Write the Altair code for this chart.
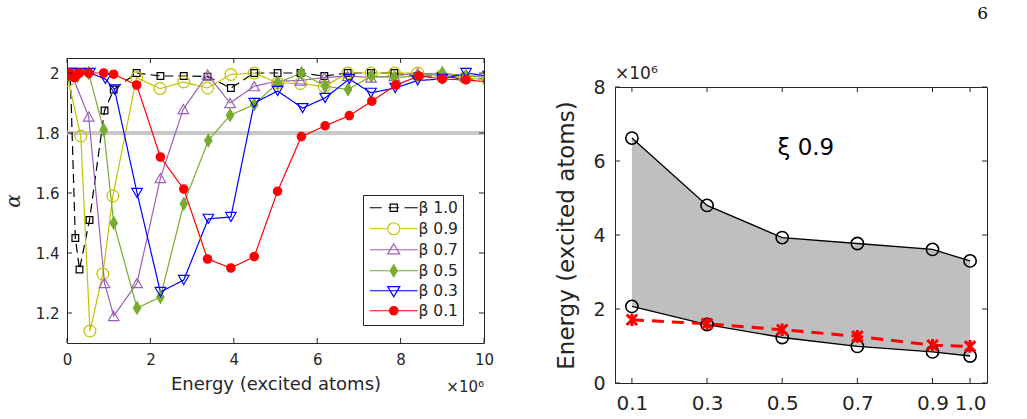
import altair as alt
import pandas as pd

FONT = "DejaVu Sans"
INK = "#262626"

# ---------------- left panel: alpha against energy, one curve per beta ----------------
series = ["β 1.0", "β 0.9", "β 0.7", "β 0.5", "β 0.3", "β 0.1"]
series_colors = ["#000000", "#c3c300", "#9b5fb5", "#77ac30", "#0000ff", "#ff0000"]
series_fills = ["transparent", "transparent", "transparent", "#77ac30", "transparent", "#ff0000"]
series_shapes = ["square", "circle", "triangle-up", "M0,-1L0.6,0L0,1L-0.6,0Z", "triangle-down", "circle"]
series_sizes = [45, 140, 110, 150, 110, 70]
series_dash = [[9, 5], [1, 0], [1, 0], [1, 0], [1, 0], [1, 0]]

# legend glyphs: a line segment with the marker in the middle
legend_glyphs = [
    "M-4,0H-2M-0.9,0H0.9M1.8,0H4M-0.6,-0.6H0.6V0.6H-0.6Z",
    "M-4,0H-1M1,0H4M-1,0A1,1,0,1,1,1,0A1,1,0,1,1,-1,0Z",
    "M-4,0H4M0,-1L1,0.7H-1Z",
    "M-4,0H4M0,-1L0.6,0L0,1L-0.6,0Z",
    "M-4,0H4M-1,-0.7H1L0,1Z",
    "M-4,0H4M-0.7,0A0.7,0.7,0,1,1,0.7,0A0.7,0.7,0,1,1,-0.7,0Z",
]

energy_b10 = [0.08, 0.2, 0.3, 0.54, 0.9, 1.12, 1.67, 2.24, 2.8, 3.37, 3.93, 4.49, 5.05, 5.6, 6.17, 6.73, 7.29, 7.85, 8.41, 8.97, 9.54, 10.1]
alpha_b10 = [1.99, 1.45, 1.345, 1.51, 1.875, 1.945, 2.0, 1.99, 1.99, 1.988, 1.95, 2.0, 2.0, 2.0, 1.99, 2.0, 2.0, 2.0, 1.99, 1.99, 1.98, 1.98]

energy_b09 = [0.03, 0.33, 0.55, 0.86, 1.1, 1.67, 2.23, 2.8, 3.37, 3.93, 4.49, 5.05, 5.6, 6.17, 6.73, 7.29, 7.85, 8.41, 8.97, 9.54, 10.1]
alpha_b09 = [1.975, 1.79, 1.14, 1.33, 1.59, 1.985, 1.948, 1.97, 1.95, 1.995, 2.0, 1.967, 1.965, 1.955, 2.0, 2.0, 2.0, 2.0, 1.99, 1.985, 1.975]

energy_b07 = [0.1, 0.52, 0.9, 1.12, 1.68, 2.24, 2.79, 3.37, 3.91, 4.49, 5.05, 5.6, 6.17, 6.73, 7.29, 7.85, 8.41, 8.97, 9.54, 10.1]
alpha_b07 = [2.0, 1.855, 1.30, 1.19, 1.30, 1.65, 1.88, 1.995, 1.90, 1.956, 1.973, 1.975, 1.985, 1.99, 1.985, 1.99, 2.0, 1.995, 1.99, 1.99]

energy_b05 = [0.05, 0.25, 0.52, 0.88, 1.12, 1.68, 2.24, 2.8, 3.39, 3.91, 4.49, 5.05, 5.62, 6.19, 6.74, 7.3, 7.85, 8.41, 9.0, 9.57, 10.1]
alpha_b05 = [1.99, 1.99, 2.0, 1.81, 1.50, 1.217, 1.253, 1.564, 1.775, 1.859, 1.895, 1.967, 2.0, 1.956, 1.945, 1.99, 1.985, 1.99, 2.0, 1.99, 1.985]

energy_b03 = [0.0, 0.12, 0.3, 0.55, 0.92, 1.14, 1.68, 2.24, 2.8, 3.39, 3.93, 4.49, 5.05, 5.65, 6.19, 6.77, 7.29, 7.87, 8.41, 9.0, 9.57, 10.1]
alpha_b03 = [2.0, 2.0, 2.0, 2.0, 1.98, 1.945, 1.6, 1.27, 1.31, 1.514, 1.52, 1.9, 1.94, 1.883, 1.917, 1.98, 1.934, 1.95, 1.975, 1.98, 2.0, 1.99]

energy_b01 = [0.0, 0.08, 0.18, 0.3, 0.52, 0.88, 1.12, 1.67, 2.24, 2.8, 3.37, 3.93, 4.49, 5.05, 5.62, 6.19, 6.77, 7.31, 7.89, 8.44, 9.0, 9.57, 10.1]
alpha_b01 = [1.99, 2.0, 1.985, 2.0, 2.0, 2.0, 1.996, 1.96, 1.72, 1.613, 1.38, 1.35, 1.388, 1.606, 1.788, 1.824, 1.858, 1.906, 1.96, 1.99, 1.98, 1.977, 1.97]

alpha_threshold = 1.8
left_x_ticks = [0, 2, 4, 6, 8, 10]
left_y_ticks = [1.2, 1.4, 1.6, 1.8, 2.0]

# ---------------- right panel: energy window against beta ----------------
beta_values = [0.1, 0.3, 0.5, 0.7, 0.9, 1.0]
energy_upper = [6.62, 4.80, 3.93, 3.77, 3.61, 3.30]
energy_lower = [2.07, 1.58, 1.23, 0.99, 0.84, 0.73]
energy_red = [1.71, 1.60, 1.44, 1.26, 1.02, 0.99]
right_x_ticks = [0.1, 0.3, 0.5, 0.7, 0.9, 1.0]
right_y_ticks = [0, 2, 4, 6, 8]
xi_label = "ξ 0.9"
xi_pos = (0.563, 6.34)
exponent_label = "×10⁶"

# ---------------- tables ----------------
rows = []
for name, ex, al in zip(series,
                        [energy_b10, energy_b09, energy_b07, energy_b05, energy_b03, energy_b01],
                        [alpha_b10, alpha_b09, alpha_b07, alpha_b05, alpha_b03, alpha_b01]):
    for i, (e, a) in enumerate(zip(ex, al)):
        rows.append({"series": name, "energy": e, "alpha": a, "idx": i})
left_df = pd.DataFrame(rows)

W1, H1 = 417, 285
W2, H2 = 372, 296
TICK = 5

xs1 = alt.Scale(domain=[0, 10], nice=False, zero=False)
ys1 = alt.Scale(domain=[1.1, 2.05], nice=False, zero=False)

x_axis1 = alt.Axis(values=left_x_ticks, format="d", title="Energy (excited atoms)",
                   labelFont=FONT, labelFontSize=15, labelColor=INK, labelPadding=9,
                   titleFont=FONT, titleFontSize=18, titleFontWeight="normal", titleColor=INK,
                   titlePadding=8, tickSize=0, domain=False, grid=False, labelFlush=False)
y_axis1 = alt.Axis(values=left_y_ticks, format="~g", title="α",
                   labelFont=FONT, labelFontSize=15, labelColor=INK, labelPadding=8,
                   titleFont="DejaVu Serif", titleFontStyle="italic", titleFontSize=20,
                   titleFontWeight="normal", titleColor=INK, titlePadding=12,
                   tickSize=0, domain=False, grid=False)

base1 = alt.Chart(left_df)

threshold = alt.Chart(pd.DataFrame({"alpha": [alpha_threshold]})).mark_rule(
    color="#c8c8c8", strokeWidth=4).encode(y=alt.Y("alpha:Q", scale=ys1, axis=y_axis1))

lines1 = base1.mark_line(strokeWidth=1.2, clip=True).encode(
    x=alt.X("energy:Q", scale=xs1, axis=x_axis1),
    y=alt.Y("alpha:Q", scale=ys1, axis=y_axis1),
    color=alt.Color("series:N", scale=alt.Scale(domain=series, range=series_colors), legend=None),
    strokeDash=alt.StrokeDash("series:N", scale=alt.Scale(domain=series, range=series_dash), legend=None),
    order=alt.Order("idx:Q"),
)

points1 = base1.mark_point(strokeWidth=1.2, opacity=1, clip=True).encode(
    x=alt.X("energy:Q", scale=xs1),
    y=alt.Y("alpha:Q", scale=ys1),
    stroke=alt.Stroke("series:N", scale=alt.Scale(domain=series, range=series_colors), legend=None),
    fill=alt.Fill("series:N", scale=alt.Scale(domain=series, range=series_fills), legend=None),
    shape=alt.Shape("series:N", scale=alt.Scale(domain=series, range=series_shapes), legend=None),
    size=alt.Size("series:O", scale=alt.Scale(type="ordinal", domain=series, range=series_sizes),
                  legend=None),
)

# key layer: holds no rows, only carries the legend with line-and-marker glyphs
legend_opts = dict(title=None, orient="none", legendX=296, legendY=137,
                   labelFont=FONT, labelFontSize=15.5, labelColor=INK,
                   strokeColor=INK, fillColor="white", padding=5,
                   rowPadding=3, labelOffset=17, symbolOffset=18,
                   symbolSize=144, symbolStrokeWidth=1.2)
key_layer = base1.transform_filter("false").mark_point(opacity=1).encode(
    stroke=alt.Stroke("series:N", scale=alt.Scale(domain=series, range=series_colors),
                      legend=alt.Legend(**legend_opts)),
    fill=alt.Fill("series:N", scale=alt.Scale(domain=series, range=series_fills),
                  legend=alt.Legend(**legend_opts)),
    shape=alt.Shape("series:N", scale=alt.Scale(domain=series, range=legend_glyphs),
                    legend=alt.Legend(**legend_opts)),
)

xt1 = alt.Chart(pd.DataFrame({"energy": left_x_ticks}))
yt1 = alt.Chart(pd.DataFrame({"alpha": left_y_ticks}))
ticks1 = [
    xt1.mark_rule(color=INK).encode(x=alt.X("energy:Q", scale=xs1), y=alt.value(H1), y2=alt.value(H1 - TICK)),
    xt1.mark_rule(color=INK).encode(x=alt.X("energy:Q", scale=xs1), y=alt.value(0), y2=alt.value(TICK)),
    yt1.mark_rule(color=INK).encode(y=alt.Y("alpha:Q", scale=ys1), x=alt.value(0), x2=alt.value(TICK)),
    yt1.mark_rule(color=INK).encode(y=alt.Y("alpha:Q", scale=ys1), x=alt.value(W1), x2=alt.value(W1 - TICK)),
]

exp1 = alt.Chart(pd.DataFrame({"t": [exponent_label]})).mark_text(
    font=FONT, fontSize=15, color=INK, align="right", baseline="alphabetic").encode(
    text="t:N", x=alt.value(W1), y=alt.value(H1 + 49))

left = alt.layer(threshold, lines1, points1, *ticks1, exp1, key_layer).resolve_scale(
    stroke="independent", fill="independent", shape="independent", size="independent",
).properties(width=W1, height=H1)

# ---------------- right panel ----------------
right_df = pd.DataFrame({"beta": beta_values, "upper": energy_upper,
                         "lower": energy_lower, "red": energy_red})
xs2 = alt.Scale(domain=[0.055, 1.045], nice=False, zero=False)
ys2 = alt.Scale(domain=[0, 8], nice=False)

x_axis2 = alt.Axis(values=right_x_ticks, format=".1f", title=None,
                   labelFont=FONT, labelFontSize=20, labelColor=INK, labelPadding=10,
                   tickSize=0, domain=False, grid=False, labelFlush=False)
y_axis2 = alt.Axis(values=right_y_ticks, format="d", title="Energy (excited atoms)",
                   labelFont=FONT, labelFontSize=19, labelColor=INK, labelPadding=10,
                   titleFont=FONT, titleFontSize=23, titleFontWeight="normal", titleColor=INK,
                   titlePadding=14, tickSize=0, domain=False, grid=False)

base2 = alt.Chart(right_df)
band = base2.mark_area(color="#bfbfbf", opacity=1).encode(
    x=alt.X("beta:Q", scale=xs2, axis=x_axis2),
    y=alt.Y("upper:Q", scale=ys2, axis=y_axis2),
    y2="lower:Q",
)
upper_line = base2.mark_line(color="black", strokeWidth=1.3).encode(
    x=alt.X("beta:Q", scale=xs2), y=alt.Y("upper:Q", scale=ys2))
upper_pts = base2.mark_point(shape="circle", size=150, color="black", strokeWidth=1.6,
                             filled=False, opacity=1).encode(
    x=alt.X("beta:Q", scale=xs2), y=alt.Y("upper:Q", scale=ys2))
lower_line = base2.mark_line(color="black", strokeWidth=1.3).encode(
    x=alt.X("beta:Q", scale=xs2), y=alt.Y("lower:Q", scale=ys2))
lower_pts = base2.mark_point(shape="circle", size=150, color="black", strokeWidth=1.6,
                             filled=False, opacity=1).encode(
    x=alt.X("beta:Q", scale=xs2), y=alt.Y("lower:Q", scale=ys2))
red_line = base2.mark_line(color="#ff0000", strokeWidth=3, strokeDash=[12, 8]).encode(
    x=alt.X("beta:Q", scale=xs2), y=alt.Y("red:Q", scale=ys2))
red_pts = base2.mark_point(shape="M-1,-1L1,1M-1,1L1,-1M0,-1.2V1.2", size=110, color="#ff0000",
                           strokeWidth=3, filled=False, opacity=1).encode(
    x=alt.X("beta:Q", scale=xs2), y=alt.Y("red:Q", scale=ys2))

xi_text = alt.Chart(pd.DataFrame({"beta": [xi_pos[0]], "upper": [xi_pos[1]], "t": [xi_label]})).mark_text(
    font=FONT, fontSize=23, color="black", align="center", baseline="middle").encode(
    x=alt.X("beta:Q", scale=xs2), y=alt.Y("upper:Q", scale=ys2), text="t:N")

# axis multiplier printed just above the top-left corner of the frame
exp2 = alt.Chart(pd.DataFrame({"t": [exponent_label]})).mark_text(
    font=FONT, fontSize=17, color=INK, align="left", baseline="alphabetic").encode(
    text="t:N", x=alt.value(0), y=alt.value(-8))

xt2 = alt.Chart(pd.DataFrame({"beta": right_x_ticks}))
yt2 = alt.Chart(pd.DataFrame({"upper": right_y_ticks}))
ticks2 = [
    xt2.mark_rule(color=INK).encode(x=alt.X("beta:Q", scale=xs2), y=alt.value(H2), y2=alt.value(H2 - TICK)),
    xt2.mark_rule(color=INK).encode(x=alt.X("beta:Q", scale=xs2), y=alt.value(0), y2=alt.value(TICK)),
    yt2.mark_rule(color=INK).encode(y=alt.Y("upper:Q", scale=ys2), x=alt.value(0), x2=alt.value(TICK)),
    yt2.mark_rule(color=INK).encode(y=alt.Y("upper:Q", scale=ys2), x=alt.value(W2), x2=alt.value(W2 - TICK)),
]

right = alt.layer(band, upper_line, lower_line, red_line, upper_pts, lower_pts, red_pts,
                  xi_text, exp2, *ticks2).properties(width=W2, height=H2)

# blank strip that lowers the right panel relative to the left one
gap = alt.Chart(pd.DataFrame({"t": [0]})).mark_rule(strokeOpacity=0).encode(
    x=alt.value(0), x2=alt.value(1), y=alt.value(1)).properties(
    width=W2, height=5, view=alt.ViewBackground(stroke="transparent"))

right_col = alt.vconcat(gap, right, spacing=0)

chart = alt.hconcat(left, right_col, spacing=60).resolve_scale(
    x="independent", y="independent",
).properties(
    title=alt.TitleParams("6", anchor="end", font="DejaVu Serif", fontSize=17,
                          fontWeight="normal", color="black", offset=34),
    padding={"left": 2, "top": 5, "right": 5, "bottom": 5},
).configure_view(stroke=INK, strokeWidth=1)

chart.save("out.html", embed_options={"renderer": "svg", "actions": False})
